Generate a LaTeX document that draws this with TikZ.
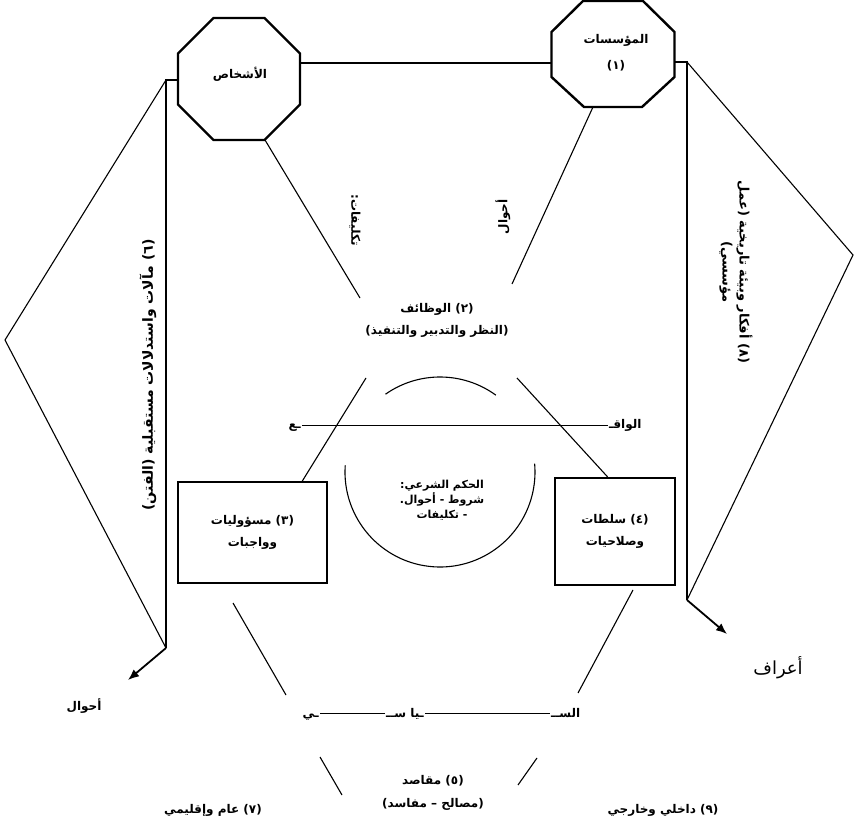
\documentclass[tikz,border=0pt]{standalone}
\usepackage{fontspec}
\newfontfamily\arabicfont[Script=Arabic]{DejaVu Sans}
\TeXXeTstate=1
\usetikzlibrary{arrows.meta,calc}
\newcommand{\ar}[1]{\beginR #1\endR}

\tikzset{
  lbl/.style={font=\arabicfont\bfseries\fontsize{12}{14}\selectfont, inner sep=1pt, align=center},
  octa/.style={line width=2.4pt},
  bx/.style={draw, line width=2pt, minimum width=149, minimum height=101},
  ln/.style={line width=1.1pt},
  side/.style={line width=1.8pt},
  arr/.style={line width=1.8pt, -{Latex[length=11pt,width=9pt]}},
}

\begin{document}
\begin{tikzpicture}[x=1pt,y=-1pt]
    \useasboundingbox (0,0) rectangle (855,826);

    % Draw the two octagons
    \draw[octa] (213.5,18) -- (264.5,18) -- (300,53.5) -- (300,104.5) -- (264.5,140)
        -- (213.5,140) -- (178,104.5) -- (178,53.5) -- cycle;
    \draw[octa] (583,1) -- (643,1) -- (674.5,32) -- (674.5,77) -- (642,107)
        -- (584,107) -- (551.5,77) -- (551.5,32) -- cycle;
    \node[lbl] (persons) at (240,74) {\ar{الأشخاص}};
    \node[lbl] (inst) at (616,53) {\ar{المؤسسات}\\[12pt]\ar{(١)}};

    \coordinate (pR) at (300,63);
    \coordinate (pL) at (178,80);
    \coordinate (pB) at (265,140);
    \coordinate (iL) at (551.5,63);
    \coordinate (iR) at (674.5,62);
    \coordinate (iB) at (593,107);
    \draw[side] (pR) -- (iL);

    % Left side
    \coordinate (lv) at (166,80);
    \coordinate (lapex) at (5,340);
    \coordinate (lbot) at (166,648);
    \coordinate (lend) at (128,680);
    \draw[side] (pL) -- (lv) -- (lbot);
    \draw[ln] (lv) -- (lapex) -- (lbot);
    \draw[arr] (lbot) -- (lend);
    \node[lbl] (ahwalL) at (84,706) {\ar{أحوال}};
    \node[lbl, font=\arabicfont\bfseries\fontsize{14}{16}\selectfont, rotate=90] (maalat) at (148,375) {\ar{(٦) مآلات واستدلالات مستقبلية (الفتن)}};

    % Right side
    \coordinate (rv) at (687,62);
    \coordinate (rapex) at (853,255);
    \coordinate (rbot) at (687,600);
    \coordinate (rend) at (727,634);
    \draw[side] (iR) -- (rv) -- (rbot);
    \draw[ln] (rv) -- (rapex) -- (rbot);
    \draw[arr] (rbot) -- (rend);
    \node[font=\arabicfont\fontsize{18}{20}\selectfont] (aaraf) at (778,668) {\ar{أعراف}};
    \node[lbl, font=\arabicfont\bfseries\fontsize{13}{17}\selectfont, rotate=-90] (afkar) at (736,272) {\ar{(٨) أفكار وبيئة تاريخية (عمل}\\\ar{مؤسسي)}};

    % Functions
    \node[lbl] (func) at (437,320) {\ar{(٢) الوظائف}\\[8pt]\ar{(النظر والتدبير والتنفيذ)}};
    \coordinate (fL) at (360,298);
    \coordinate (fR) at (512,284);
    \draw[ln] (pB) -- (fL);
    \draw[ln] (iB) -- (fR);
    \node[lbl, rotate=-90] (takl) at (355,220) {\ar{تكليفات:}};
    \node[lbl, rotate=90] (ahwalT) at (503,217) {\ar{أحوال}};

    % Boxes
    \node[bx, lbl, minimum width=149, minimum height=101] (duty) at (252.5,532.5) {\ar{(٣) مسؤوليات}\\[8pt]\ar{وواجبات}};
    \node[bx, lbl, minimum width=120, minimum height=107] (auth) at (615,531.5) {\ar{(٤) سلطات}\\[8pt]\ar{وصلاحيات}};
    \coordinate (vL) at (366,378);
    \coordinate (vR) at (517,378);
    \draw[ln] ($(duty.north west)!0.83!(duty.north east)$) -- (vL);
    \draw[ln] ($(auth.north west)!0.44!(auth.north east)$) -- (vR);

    % Ruling circle
    \coordinate (hk) at (440,472);
    \draw[ln] (hk) ++(235:95) arc[start angle=235, end angle=306, radius=95];
    \draw[ln] (hk) ++(184:95) arc[start angle=184, end angle=-5, radius=95];
    \node[lbl, font=\arabicfont\bfseries\fontsize{11}{15}\selectfont] (hukm) at (442,500) {\ar{الحكم الشرعي:}\\\ar{شروط - أحوال.}\\\ar{- تكليفات}};

    % Reality line
    \node[lbl, anchor=base west] (waqA) at (608,429) {\ar{الواقـ}};
    \node[lbl, anchor=base east] (waqB) at (302,429) {\ar{ـع}};
    \draw[side] ($(waqB.base east)+(0,-3.5)$) -- ($(waqA.base west)+(0,-3.5)$);

    % Politics line
    \node[lbl, anchor=base west] (sivA) at (550,717) {\ar{الســ}};
    \node[lbl, anchor=base] (sivM) at (405,717) {\ar{ـيا ســ}};
    \node[lbl, anchor=base east] (sivB) at (320,717) {\ar{ـي}};
    \draw[side] ($(sivB.base east)+(0,-3.5)$) -- ($(sivM.base west)+(0,-3.5)$);
    \draw[side] ($(sivM.base east)+(0,-3.5)$) -- ($(sivA.base west)+(0,-3.5)$);
    \draw[ln] (233,603) -- (286,695);
    \draw[ln] (633,590) -- (578,693);

    % Purposes
    \node[lbl] (maqasid) at (433,793) {\ar{(٥) مقاصد}\\[9pt]\ar{(مصالح – مفاسد)}};
    \draw[ln] (320,757) -- (342,795);
    \draw[ln] (537,758) -- (518,785);
    \node[lbl] (aam) at (213,810) {\ar{(٧) عام وإقليمي}};
    \node[lbl] (dakh) at (663,810) {\ar{(٩) داخلي وخارجي}};
\end{tikzpicture}
\end{document}
